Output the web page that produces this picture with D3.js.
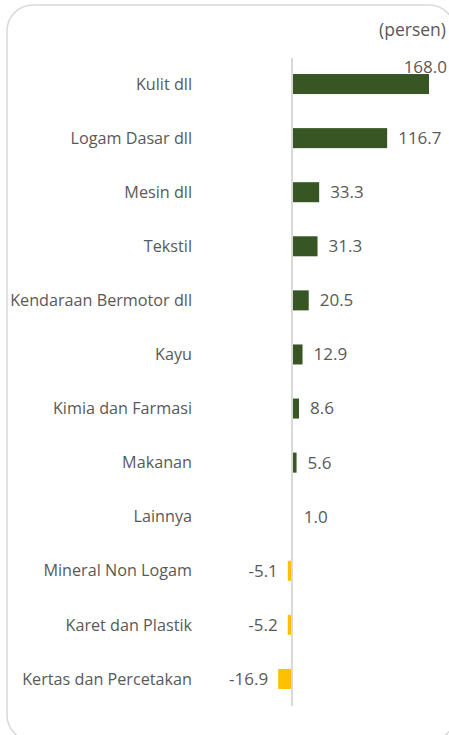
<!DOCTYPE html>
<html>
<head>
	<meta charset="utf-8">
	<title>Pertumbuhan per sektor</title>
	<script src="https://d3js.org/d3.v7.min.js"></script>
	<style>
		body { margin: 0; background: #fff; }
		text { font-family: "Open Sans", "Noto Sans", sans-serif; fill: #595959; }
	</style>
</head>
<body>
	<script>
		var width = 449, height = 735;

		// categories and values, top to bottom
		var categories = ["Kulit dll", "Logam Dasar dll", "Mesin dll", "Tekstil", "Kendaraan Bermotor dll", "Kayu",
			"Kimia dan Farmasi", "Makanan", "Lainnya", "Mineral Non Logam", "Karet dan Plastik", "Kertas dan Percetakan"];
		var values = [168.0, 116.7, 33.3, 31.3, 20.5, 12.9, 8.6, 5.6, 1.0, -5.1, -5.2, -16.9];
		var unitLabel = "(persen)";

		var data = categories.map(function(c, i){ return {name: c, value: values[i]}; });

		var svg = d3.select("body").append("svg").attr("width", width).attr("height", height);

		// rounded frame
		svg.append("rect").attr("x", 7).attr("y", 5).attr("width", 448).attr("height", 736)
			.attr("rx", 26).attr("fill", "none").attr("stroke", "#d9d9d9").attr("stroke-width", 1.5);

		var x = d3.scaleLinear().domain([0, 168]).range([292, 429]);
		var y = d3.scaleBand().domain(categories).range([57, 706]).paddingInner(0.63).paddingOuter(0.315);

		// bars
		svg.append("g").selectAll("rect")
			.data(data)
			.enter().append("rect")
			.attr("x", function(d){ return x(Math.min(0, d.value)); })
			.attr("y", function(d){ return y(d.name); })
			.attr("width", function(d){ return Math.abs(x(d.value) - x(0)); })
			.attr("height", y.bandwidth())
			.attr("fill", function(d){ return d.value >= 0 ? "#375623" : "#ffc000"; });

		// zero axis line
		svg.append("line").attr("x1", x(0)).attr("x2", x(0)).attr("y1", 58).attr("y2", 706)
			.attr("stroke", "#d9d9d9").attr("stroke-width", 2);

		// category labels
		svg.append("g").selectAll("text")
			.data(data)
			.enter().append("text")
			.attr("x", 192)
			.attr("y", function(d){ return y(d.name) + y.bandwidth() / 2; })
			.attr("dy", "0.35em")
			.attr("text-anchor", "end")
			.style("font-size", "16.2px")
			.text(function(d){ return d.name; });

		// value labels (the longest bar's label sits above its end, as in the original)
		var fmt = function(v){ return v.toFixed(1); };
		svg.append("g").selectAll("text")
			.data(data)
			.enter().append("text")
			.attr("x", function(d, i){
				if (i === 0) return x(d.value) + 18;
				return d.value >= 0 ? x(d.value) + 11 : x(d.value) - 10;
			})
			.attr("y", function(d, i){
				var c = y(d.name) + y.bandwidth() / 2;
				return i === 0 ? c - 17 : c;
			})
			.attr("dy", "0.35em")
			.attr("text-anchor", function(d, i){ return i === 0 ? "end" : (d.value >= 0 ? "start" : "end"); })
			.style("font-size", "17px")
			.text(function(d){ return fmt(d.value); });

		svg.append("text").attr("x", 446).attr("y", 36).attr("text-anchor", "end")
			.style("font-size", "17.5px").text(unitLabel);
	</script>
</body>
</html>
